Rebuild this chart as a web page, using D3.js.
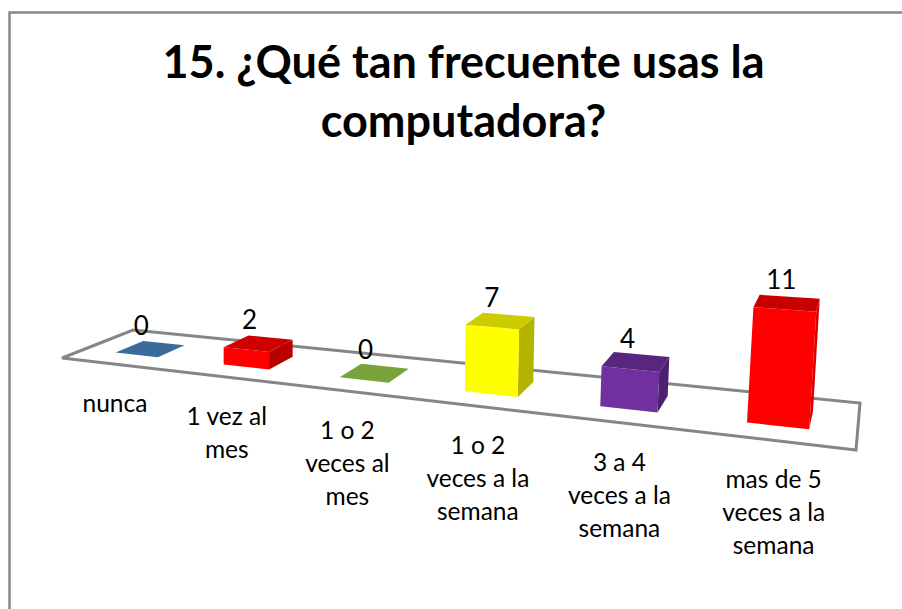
<!DOCTYPE html>
<html><head><meta charset="utf-8">
<script src="https://cdnjs.cloudflare.com/ajax/libs/d3/7.8.5/d3.min.js"></script>
<style>html,body{margin:0;padding:0;background:#fff;overflow:hidden}svg{display:block}</style>
</head><body><svg id="c" width="902" height="609"></svg>
<script>
const titleLines = ["15. ¿Qué tan frecuente usas la", "computadora?"];
const categories = ["nunca", "1 vez al mes", "1 o 2 veces al mes", "1 o 2 veces a la semana", "3 a 4 veces a la semana", "mas de 5 veces a la semana"];
const labelLines = [["nunca"], ["1 vez al", "mes"], ["1 o 2", "veces al", "mes"], ["1 o 2", "veces a la", "semana"], ["3 a 4", "veces a la", "semana"], ["mas de 5", "veces a la", "semana"]];
const values = [0, 2, 0, 7, 4, 11];
const frontColors = ["#376092", "#ff0000", "#77933c", "#ffff00", "#7030a0", "#ff0000"];
const topColors   = ["#3b6a9c", "#d00000", "#77a33a", "#cccc00", "#59267f", "#c80000"];
const sideColors  = ["#2c4d75", "#b80000", "#5f7630", "#b3b300", "#4c2070", "#d80000"];

const svg = d3.select("#c");
const font = "Lato, Carlito, 'Open Sans', sans-serif";

// frame
svg.append("path").attr("d", "M9.5,609V12.5H902").attr("fill", "none").attr("stroke", "#868686").attr("stroke-width", 2.5);

// title
svg.selectAll("text.title").data(titleLines).join("text").attr("class", "title")
  .attr("x", 463.5).attr("y", (d, i) => 78 + i * 59)
  .attr("text-anchor", "middle").attr("font-family", font).attr("font-weight", 700)
  .attr("font-size", 45).attr("fill", "#000").text(d => d);

// floor projection (unit square -> floor quad)
const q = [[62, 358], [856, 450], [860, 403], [133, 330]];
const [[x0, y0], [x1, y1], [x2, y2], [x3, y3]] = q;
const dx1 = x1 - x2, dx2 = x3 - x2, sx = x0 - x1 + x2 - x3;
const dy1 = y1 - y2, dy2 = y3 - y2, sy = y0 - y1 + y2 - y3;
const den = dx1 * dy2 - dx2 * dy1;
const g = (sx * dy2 - dx2 * sy) / den, h = (dx1 * sy - sx * dy1) / den;
const a = x1 - x0 + g * x1, b = x3 - x0 + h * x3, d_ = y1 - y0 + g * y1, e = y3 - y0 + h * y3;

const uScale = d3.scaleBand().domain(categories).range([0, 1]).paddingInner(0.6).paddingOuter(0.3);
const vRange = [0.3, 0.7];
const zScale = d3.scaleLinear().domain([0, 11]).range([0, 92]);
const lean = d3.scaleLinear().domain([0.5, 0.92]).range([0, 0.06]).clamp(true);
const warp = u => u * 1.06 / (1 + 0.06 * u);

function project(uRaw, v, val) {
  const u = warp(uRaw);
  const w = g * u + h * v + 1;
  const z = zScale(val) / w;
  return [(a * u + b * v + x0) / w + z * lean(u), (d_ * u + e * v + y0) / w - z];
}

// floor
svg.append("path")
  .attr("d", d3.line()([[0, 0], [1, 0], [1, 1], [0, 1]].map(p => project(p[0], p[1], 0))) + "Z")
  .attr("fill", "none").attr("stroke", "#868686").attr("stroke-width", 3).attr("stroke-linejoin", "miter");

// bars
const poly = pts => d3.line()(pts) + "Z";
const bars = svg.selectAll("g.bar").data(categories).join("g").attr("class", "bar");
bars.each(function (cat, i) {
  const sel = d3.select(this);
  const u0 = uScale(cat), u1 = u0 + uScale.bandwidth();
  const [v0, v1] = vRange;
  const val = values[i];
  const P = (u, v, z) => project(u, v, z);
  if (val > 0) {
    sel.append("path").attr("fill", sideColors[i])
      .attr("d", poly([P(u1, v0, 0), P(u1, v1, 0), P(u1, v1, val), P(u1, v0, val)]));
    sel.append("path").attr("fill", frontColors[i])
      .attr("d", poly([P(u0, v0, 0), P(u1, v0, 0), P(u1, v0, val), P(u0, v0, val)]));
  }
  sel.append("path").attr("fill", topColors[i])
    .attr("d", poly([P(u0, v0, val), P(u1, v0, val), P(u1, v1, val), P(u0, v1, val)]));
  const c = P((u0 + u1) / 2, 0.5, val);
  sel.append("text").attr("x", c[0] - 9 + zScale(val) * lean(warp(u0)) * 0.6).attr("y", c[1] - 14)
    .attr("text-anchor", "middle").attr("font-family", font).attr("font-size", 26).attr("fill", "#000")
    .text(val);
  const base = P((u0 + u1) / 2, 0, 0);
  sel.append("text").attr("text-anchor", "middle").attr("font-family", font).attr("font-size", 24.5).attr("fill", "#000")
    .selectAll("tspan").data(labelLines[i]).join("tspan")
    .attr("x", base[0]).attr("y", (d, k) => base[1] + 48 + k * 33).text(d => d);
});
</script></body></html>
